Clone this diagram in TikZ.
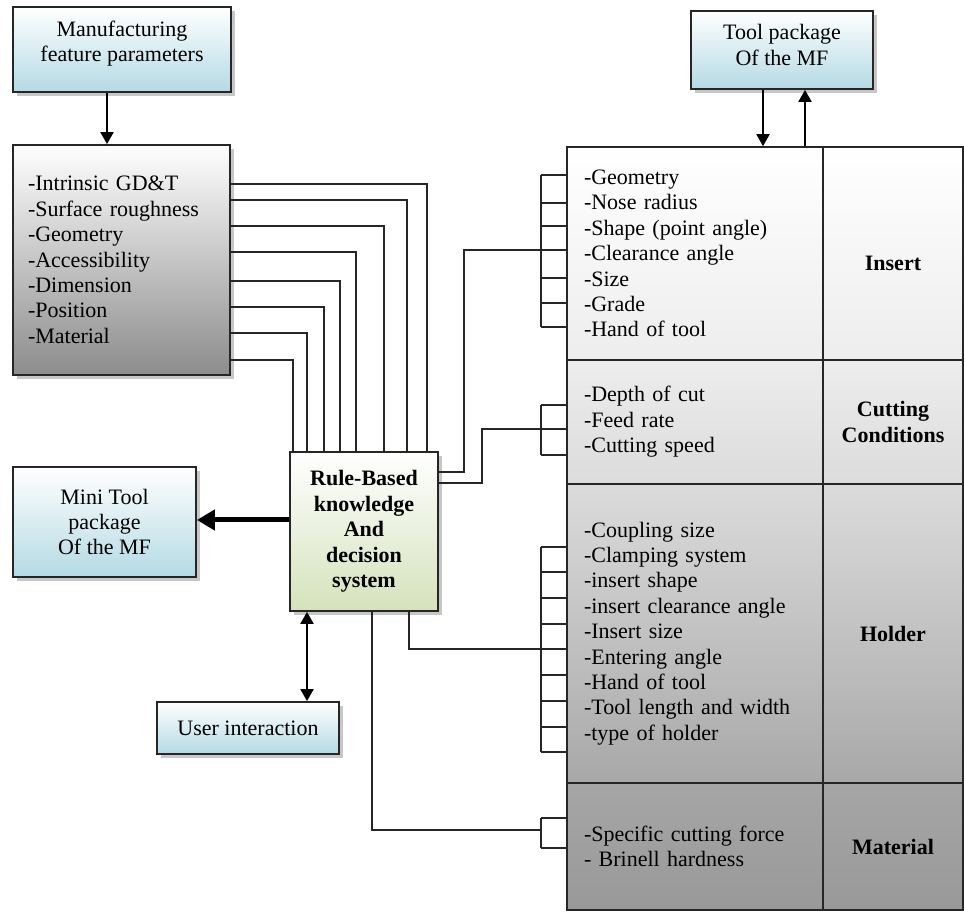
\documentclass[tikz,border=0pt]{standalone}
\usepackage{fontspec}
\setmainfont{Liberation Serif}
\usetikzlibrary{arrows.meta,shadows}
\definecolor{boxblue}{HTML}{B4DAE4}
\definecolor{boxgreen}{HTML}{D5E2BB}
\definecolor{boxgray}{HTML}{8C8C8C}
\begin{document}
\begin{tikzpicture}[x=0.5pt,y=-0.5pt,
  every node/.style={font=\fontsize{11pt}{12.7pt}\selectfont},
  box/.style={draw=black!85, line width=0.9pt, shading=axis, top color=white,
    inner sep=0pt,
    drop shadow={shadow xshift=2pt,shadow yshift=-2pt,fill=black!22,opacity=1}},
  bluebox/.style={box, bottom color=boxblue, align=center},
  cell/.style={draw=black!85, line width=0.8pt, shading=axis, inner sep=0pt},
  listcell/.style={cell, text width=111pt, inner xsep=8.5pt, align=left},
  headcell/.style={cell, minimum width=70pt, align=center, font=\fontsize{11pt}{12.7pt}\selectfont\bfseries},
  wire/.style={draw=black!85, line width=0.6pt},
  arr/.style={draw=black, line width=1pt, -{Triangle[width=6.5pt,length=6pt]}},
  dblarr/.style={draw=black, line width=1pt, {Triangle[width=6.5pt,length=6pt]}-{Triangle[width=6.5pt,length=6pt]}},
  bigarr/.style={draw=black, line width=2.5pt, -{Triangle[width=10pt,length=9pt]}}
]
\useasboundingbox (0,0) rectangle (964,913);

% left column boxes
\node[bluebox, minimum width=109pt, minimum height=42.5pt, text depth=8.5pt] (mfp) at (122,49.5)
  {Manufacturing\\feature parameters};
\node[box, bottom color=boxgray, minimum height=115pt, text width=93.5pt, inner xsep=7.5pt, align=left]
  (params) at (121.5,260)
  {-Intrinsic GD\&T\\-Surface roughness\\-Geometry\\-Accessibility\\-Dimension\\-Position\\-Material};
\node[bluebox, minimum width=91.5pt, minimum height=55pt] (mini) at (104.5,522)
  {Mini Tool\\package\\Of the MF};
\node[bluebox, minimum width=91pt, minimum height=26pt] (user) at (248,728) {User interaction};

% decision system
\node[box, bottom color=boxgreen, minimum width=74pt, minimum height=79.5pt, align=center,
  font=\fontsize{11pt}{12.75pt}\selectfont\bfseries] (core) at (364,531.5)
  {Rule-Based\\knowledge\\And\\decision\\system};

% tool package
\node[bluebox, minimum width=91pt, minimum height=39pt, text depth=5pt] (tool) at (782,50)
  {Tool package\\Of the MF};

% tool table
\node[listcell, minimum height=106.5pt, top color=white, bottom color=black!7] (insL) at (695,253.5)
  {-Geometry\\-Nose radius\\-Shape (point angle)\\-Clearance angle\\-Size\\-Grade\\-Hand of tool};
\node[headcell, minimum height=106.5pt, top color=white, bottom color=black!7,
  text height=19pt, text depth=2.2pt] (insR) at (893,253.5) {Insert};
\node[listcell, minimum height=62pt, top color=black!7, bottom color=black!14] (cutL) at (695,422)
  {-Depth of cut\\-Feed rate\\-Cutting speed};
\node[headcell, minimum height=62pt, top color=black!7, bottom color=black!14] (cutR) at (893,422)
  {Cutting\\Conditions};
\node[listcell, minimum height=149.5pt, top color=black!14, bottom color=black!34] (holL) at (695,633.5)
  {-Coupling size\\-Clamping system\\-insert shape\\-insert clearance angle\\-Insert size\\-Entering angle\\-Hand of tool\\-Tool length and width\\-type of holder};
\node[headcell, minimum height=149.5pt, top color=black!14, bottom color=black!34] (holR) at (893,633.5)
  {Holder};
\node[listcell, minimum height=63.5pt, top color=black!35, bottom color=black!40] (matL) at (695,846.5)
  {-Specific cutting force\\- Brinell hardness};
\node[headcell, minimum height=63.5pt, top color=black!35, bottom color=black!40] (matR) at (893,846.5)
  {Material};

% attribute combs beside the table
\coordinate (insbus) at (541,250);
\coordinate (cutbus) at (541,429);
\coordinate (holbus) at (541,649);
\coordinate (matbus) at (541,830);
\draw[wire] (541,175) -- (541,327);
\foreach \y in {175,203,226,250,278,303,327} \draw[wire] (541,\y) -- (insL.west |- 0,\y);
\draw[wire] (541,405) -- (541,455);
\foreach \y in {405,429,455} \draw[wire] (541,\y) -- (cutL.west |- 0,\y);
\draw[wire] (541,547) -- (541,752);
\foreach \y in {547,572,598,624,649,675,701,727,752} \draw[wire] (541,\y) -- (holL.west |- 0,\y);
\draw[wire] (541,818) -- (541,848);
\foreach \y in {818,848} \draw[wire] (541,\y) -- (matL.west |- 0,\y);

% feature parameters into the decision system
\foreach \yy/\xx in {184/427,200/407,226/384,252/356,281/340,307/324,333/307,360/293}
  \draw[wire] (params.east |- 0,\yy) -| (\xx,0 |- core.north);

% decision system out to the table
\draw[wire] (core.east |- 0,472) -| (464,250) -- (insbus);
\draw[wire] (core.east |- 0,483) -| (482,429) -- (cutbus);
\draw[wire] (core.south -| 409,0) |- (holbus);
\draw[wire] (core.south -| 372,0) |- (matbus);

% arrows
\draw[arr] (107,0 |- mfp.south) -- (107,0 |- params.north);
\draw[bigarr] (core.west |- 0,520) -- (mini.east |- 0,520);
\draw[dblarr] (307,0 |- core.south) -- (307,0 |- user.north);
\draw[arr] (763,0 |- tool.south) -- (763,0 |- insL.north);
\draw[arr] (805,0 |- insL.north) -- (805,0 |- tool.south);
\end{tikzpicture}
\end{document}
